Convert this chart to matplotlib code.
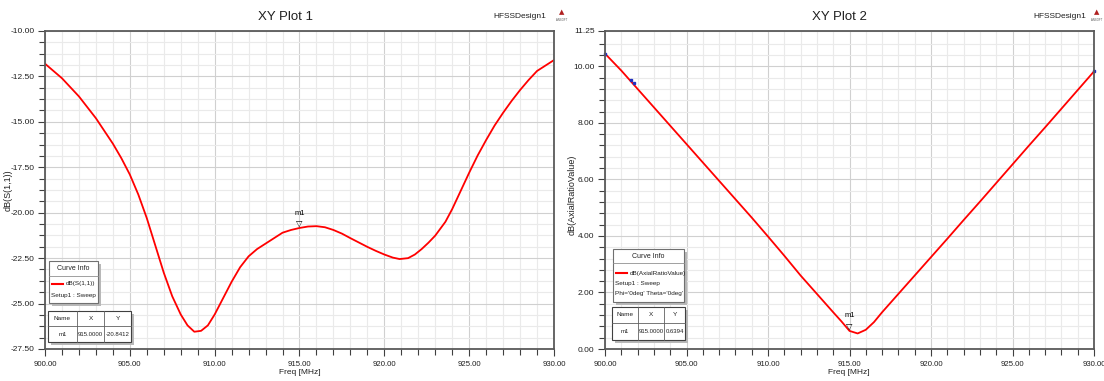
import numpy as np
import matplotlib.pyplot as plt
from matplotlib.patches import Rectangle
from matplotlib.lines import Line2D
from matplotlib.ticker import MultipleLocator, FixedLocator, FormatStrFormatter

plt.rcParams['font.family'] = ['Liberation Sans', 'DejaVu Sans']

# S11 curve (left plot)
freq_s11 = [900, 901, 902, 903, 903.5, 904, 904.5, 905, 905.5, 906, 906.5, 907,
            907.5, 908, 908.4, 908.8, 909.2, 909.6, 910, 910.5, 911, 911.5,
            912, 912.5, 913, 913.5, 914, 914.5, 915, 915.5, 916, 916.5, 917,
            917.5, 918, 918.5, 919, 919.5, 920, 920.5, 920.9, 921.4, 921.8,
            922.2, 922.6, 923, 923.6, 924, 924.5, 925, 925.5, 926, 926.5, 927,
            927.5, 928, 928.5, 929, 929.5, 930]
s11_db = [-11.8, -12.6, -13.6, -14.8, -15.5, -16.2, -17.0, -17.9, -19.0, -20.3,
          -21.8, -23.3, -24.6, -25.6, -26.2, -26.55, -26.5, -26.2, -25.6, -24.7,
          -23.8, -23.0, -22.4, -22.0, -21.7, -21.4, -21.1, -20.95, -20.84,
          -20.76, -20.74, -20.8, -20.95, -21.15, -21.4, -21.64, -21.88, -22.1,
          -22.3, -22.47, -22.55, -22.5, -22.3, -22.0, -21.65, -21.26, -20.5,
          -19.8, -18.8, -17.8, -16.85, -16.0, -15.2, -14.5, -13.85, -13.25,
          -12.7, -12.2, -11.9, -11.6]

# axial ratio curve (right plot)
freq_ar = [900, 901, 902, 903, 904, 905, 906, 907, 908, 909, 910, 911, 912,
           913, 914, 914.5, 915, 915.5, 916, 916.5, 917, 918, 919, 920, 921,
           922, 923, 924, 925, 926, 927, 928, 929, 930]
ar_db = [10.45, 9.85, 9.2, 8.55, 7.9, 7.25, 6.6, 5.95, 5.3, 4.65, 3.98, 3.3,
         2.6, 1.95, 1.3, 0.98, 0.64, 0.55, 0.68, 0.95, 1.3, 1.95, 2.6, 3.25,
         3.9, 4.56, 5.21, 5.87, 6.53, 7.19, 7.84, 8.5, 9.16, 9.82]
ar_pts_x = [900, 901.6, 901.8, 930]
ar_pts_y = [10.45, 9.5, 9.4, 9.82]

marker_x = 915.0
m1_s11 = -20.8412
m1_ar = 0.6394

W, H = 1104, 381
fig = plt.figure(figsize=(W / 100, H / 100), dpi=100)


def pbox(l, t, r, b):
    return [l / W, 1 - b / H, (r - l) / W, (b - t) / H]


def rect(l, t, r, b, **kw):
    fig.add_artist(Rectangle((l / W, 1 - b / H), (r - l) / W, (b - t) / H,
                             transform=fig.transFigure, zorder=5, **kw))


def line(x0, y0, x1, y1, **kw):
    fig.add_artist(Line2D([x0 / W, x1 / W], [1 - y0 / H, 1 - y1 / H],
                          transform=fig.transFigure, zorder=6, **kw))


def txt(x, y, s, **kw):
    kw.setdefault('fontsize', 5)
    kw.setdefault('color', '#202020')
    fig.text(x / W, 1 - y / H, s, va='center', zorder=7, **kw)


def style(ax):
    ax.set_xlim(900, 930)
    ax.xaxis.set_major_locator(MultipleLocator(5))
    ax.xaxis.set_minor_locator(MultipleLocator(1))
    ax.xaxis.set_major_formatter(FormatStrFormatter('%.2f'))
    ax.yaxis.set_major_formatter(FormatStrFormatter('%.2f'))
    ax.grid(which='major', color='#d0d0d0', lw=0.8)
    ax.grid(which='minor', color='#eaeaea', lw=0.8)
    ax.set_axisbelow(True)
    for s in ax.spines.values():
        s.set_color('#5a5a5a')
        s.set_linewidth(1.3)
    ax.tick_params(which='both', direction='out', colors='#404040',
                   labelsize=6, width=0.8, labelcolor='#202020')
    ax.tick_params(which='major', length=5)
    ax.tick_params(which='minor', length=4)
    ax.tick_params(axis='y', pad=2.5)
    ax.tick_params(axis='x', labelsize=5.6)


# ---- plot 1
ax1 = fig.add_axes(pbox(45, 31, 554, 349))
style(ax1)
ax1.set_ylim(-27.5, -10)
ax1.yaxis.set_major_locator(MultipleLocator(2.5))
ax1.yaxis.set_minor_locator(MultipleLocator(0.625))
ax1.plot(freq_s11, s11_db, color='#ff0000', lw=1.3)
ax1.annotate('\u25bd', (marker_x, m1_s11), xytext=(0, 5), textcoords='offset pixels',
             ha='center', va='center', fontsize=6, family='DejaVu Sans')
ax1.annotate('m1', (marker_x, m1_s11), xytext=(0, 15), textcoords='offset pixels',
             ha='center', va='center', fontsize=5.5)

# ---- plot 2
ax2 = fig.add_axes(pbox(605, 31, 1094, 349))
style(ax2)
ax2.set_ylim(0, 11.25)
ax2.yaxis.set_major_locator(FixedLocator([0, 2, 4, 6, 8, 10, 11.25]))
ax2.yaxis.set_minor_locator(FixedLocator(np.arange(0.4, 11.2, 0.4)))
ax2.plot(freq_ar, ar_db, color='#ff0000', lw=1.3)
ax2.plot(ar_pts_x, ar_pts_y, 's', color='#2030c0', ms=2, clip_on=False)
ax2.annotate('\u25bd', (marker_x, m1_ar), xytext=(0, 5), textcoords='offset pixels',
             ha='center', va='center', fontsize=6, family='DejaVu Sans')
ax2.annotate('m1', (marker_x, m1_ar), xytext=(0, 15), textcoords='offset pixels',
             ha='center', va='center', fontsize=5.5)

# titles, labels
txt(285, 17, 'XY Plot 1', fontsize=9.5, ha='center')
txt(839, 17, 'XY Plot 2', fontsize=9.5, ha='center')
txt(546, 17, 'HFSSDesign1', fontsize=6, ha='right')
txt(1086, 17, 'HFSSDesign1', fontsize=6, ha='right')
for lx in (562, 1097):
    txt(lx, 12, '\u25b2', fontsize=5, ha='center', color='#b02020', family='DejaVu Sans')
    txt(lx, 20, 'ANSOFT', fontsize=2, ha='center', color='#505050')
txt(8, 190, 'dB(S(1,1))', fontsize=6.5, ha='center', rotation=90)
txt(572, 195, 'dB(AxialRatioValue)', fontsize=6.5, ha='center', rotation=90)
txt(300, 372, 'Freq [MHz]', fontsize=6, ha='center')
txt(849, 372, 'Freq [MHz]', fontsize=6, ha='center')


def curve_info(l, t, r, b, sep, lines):
    rect(l + 3, t + 3, r + 3, b + 3, facecolor='#b8b8b8', edgecolor='none')
    rect(l, t, r, b, facecolor='white', edgecolor='#707070', lw=0.8)
    line(l, sep, r, sep, color='#909090', lw=0.6)
    txt((l + r) / 2, (t + sep) / 2, 'Curve Info', ha='center')
    line(l + 3, lines[0][1], l + 14, lines[0][1], color='#ff0000', lw=1.5)
    txt(l + 17, lines[0][1], lines[0][0], fontsize=4.6)
    for s, y in lines[1:]:
        txt(l + 2, y, s, fontsize=4.6)


def marker_table(l, t, r, b, mid, cols, vals):
    rect(l + 3, t + 3, r + 3, b + 3, facecolor='#b8b8b8', edgecolor='none')
    rect(l, t, r, b, facecolor='white', edgecolor='#404040', lw=0.8)
    line(l, mid, r, mid, color='#606060', lw=0.6)
    edges = [l] + cols + [r]
    for c in cols:
        line(c, t, c, b, color='#606060', lw=0.6)
    for i, (h, v) in enumerate(zip(['Name', 'X', 'Y'], vals)):
        cx = (edges[i] + edges[i + 1]) / 2
        txt(cx, (t + mid) / 2, h, ha='center', fontsize=4.6)
        txt(cx, (mid + b) / 2, v, ha='center', fontsize=4.3)


curve_info(49, 261, 98, 303, 276,
           [('dB(S(1,1))', 284), ('Setup1 : Sweep', 295)])
marker_table(48, 311, 131, 342, 326, [77, 104],
             ['m1', '%.4f' % marker_x, '%.4f' % m1_s11])

curve_info(613, 249, 684, 302, 263,
           [('dB(AxialRatioValue)', 273), ('Setup1 : Sweep', 283.5),
            ("Phi='0deg' Theta='0deg'", 294)])
marker_table(612, 307, 685, 340, 323, [638, 664],
             ['m1', '%.4f' % marker_x, '%.4f' % m1_ar])

fig.savefig('out.png', dpi=100)
